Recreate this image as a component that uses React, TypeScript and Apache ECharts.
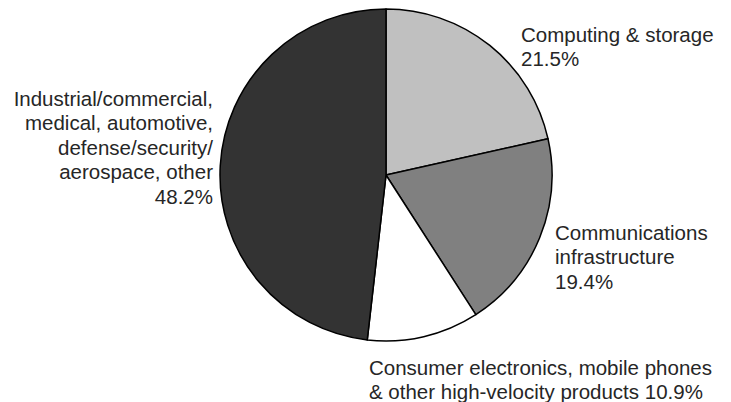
import React, { useEffect, useRef } from "react";
import * as echarts from "echarts";

const categories = [
  "Computing & storage",
  "Communications\ninfrastructure",
  "Consumer electronics, mobile phones\n& other high-velocity products",
  "Industrial/commercial,\nmedical, automotive,\ndefense/security/\naerospace, other",
];
const shares = [21.5, 19.4, 10.9, 48.2];
const separators = ["\n", "\n", " ", "\n"];
const colors = ["#c0c0c0", "#808080", "#ffffff", "#333333"];

const labelSpots = [
  { x: 521, y: 22, align: "left" },
  { x: 555, y: 220, align: "left" },
  { x: 369, y: 355, align: "left" },
  { x: 213, y: 86, align: "right" },
];

export default function App() {
  const ref = useRef<HTMLDivElement>(null);
  useEffect(() => {
    if (!ref.current) return;
    const chart = echarts.init(ref.current, null, { renderer: "svg" });
    chart.setOption({
      animation: false,
      backgroundColor: "#ffffff",
      series: [
        {
          type: "pie",
          center: [386, 175],
          radius: [0, 166],
          startAngle: 90,
          clockwise: true,
          avoidLabelOverlap: false,
          itemStyle: { borderColor: "#000000", borderWidth: 1.5 },
          emphasis: { disabled: true },
          label: {
            show: true,
            position: "outside",
            fontFamily: "Liberation Sans, Arial, sans-serif",
            fontSize: 20.5,
            lineHeight: 24.5,
            color: "#262626",
            formatter: (p: any) =>
              categories[p.dataIndex] +
              separators[p.dataIndex] +
              shares[p.dataIndex].toFixed(1) +
              "%",
          },
          labelLine: { show: false },
          labelLayout: (p: any) => {
            const s = labelSpots[p.dataIndex];
            return { x: s.x, y: s.y, align: s.align, verticalAlign: "top" };
          },
          data: categories.map((c, i) => ({
            name: c,
            value: shares[i],
            itemStyle: { color: colors[i] },
            label: { align: labelSpots[i].align },
          })),
        },
      ],
    });
    return () => chart.dispose();
  }, []);
  return (
    <div
      ref={ref}
      style={{ position: "fixed", left: 0, top: 0, width: 731, height: 402 }}
    />
  );
}
